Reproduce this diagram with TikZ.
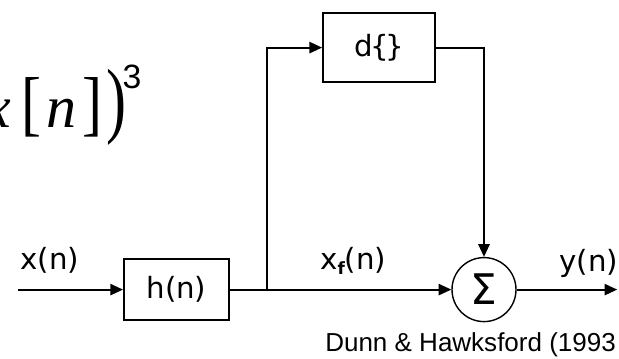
\documentclass[tikz,border=0pt]{standalone}
\usepackage{fontspec}
\setmainfont{Liberation Serif}
\newfontfamily\blockfont{DejaVu Sans}
\newfontfamily\capfont{Liberation Sans}
\usepackage{graphicx}
\usetikzlibrary{arrows.meta, positioning}

\begin{document}
\begin{tikzpicture}[
    block/.style={rectangle, draw, line width=1.3pt, minimum width=2.625cm, minimum height=1.525cm, inner sep=0pt, font=\blockfont\fontsize{20.8pt}{22pt}\selectfont},
    sum/.style={circle, draw, line width=1pt, minimum size=1.6cm, inner sep=0pt, font=\blockfont\fontsize{30pt}{30pt}\selectfont},
    signal/.style={inner sep=0pt, font=\blockfont\fontsize{20.8pt}{22pt}\selectfont},
    arrow/.style={-{Triangle[length=9pt, width=8pt]}, line width=1.3pt}
]
\useasboundingbox (0,0) rectangle (15.475,8.95);

% Formula (cut at the left edge)
\node[inner sep=0pt, anchor=base west, font=\fontsize{42.7pt}{44pt}\selectfont] (cube) at (-0.4,5.75)
    {\textit{x}\hspace{0.18em}\scalebox{1}[1.2]{[}\hspace{0.08em}\textit{n}\hspace{0.1em}\scalebox{1}[1.2]{]}\hspace{0.06em}\scalebox{1}[1.4]{)}\hspace{-0.06em}\raisebox{28pt}{\capfont\fontsize{24pt}{24pt}\selectfont 3}};

% Blocks
\node[block] (hblock) at (4.41, 1.71) {h(n)};
\node[block, minimum width=2.8cm, minimum height=1.725cm] (dblock) at (9.475, 7.76) {d\kern-0.08em\{\kern-0.12em\}};
\node[sum] (summer) at (12.1, 1.71) {Σ};

% Points on the wires
\coordinate (input) at (0.45, 1.71);
\coordinate (branch) at (6.675, 1.71);
\coordinate (output) at (15.43, 1.71);

% Signal labels
\node[signal] (xin) at (1.25, 2.45) {x(n)};
\node[signal] (xf) at (8.83, 2.42) {x\raisebox{-0.3ex}{\fontsize{12pt}{12pt}\selectfont\bfseries f}(n)};
\node[signal] (yout) at (14.72, 2.37) {y(n)};

% Wires
\draw[arrow] (input) -- (hblock);
\draw[arrow] (hblock) -- (summer);
\draw[arrow] (branch) |- (dblock);
\draw[arrow] (dblock) -| (summer);
\draw[arrow] (summer) -- (output);

% Source
\node[inner sep=0pt, anchor=base west, font=\capfont\fontsize{18.5pt}{20pt}\selectfont] (source) at (8.125, 0.15) {Dunn \& Hawksford (1993};

\end{tikzpicture}
\end{document}
